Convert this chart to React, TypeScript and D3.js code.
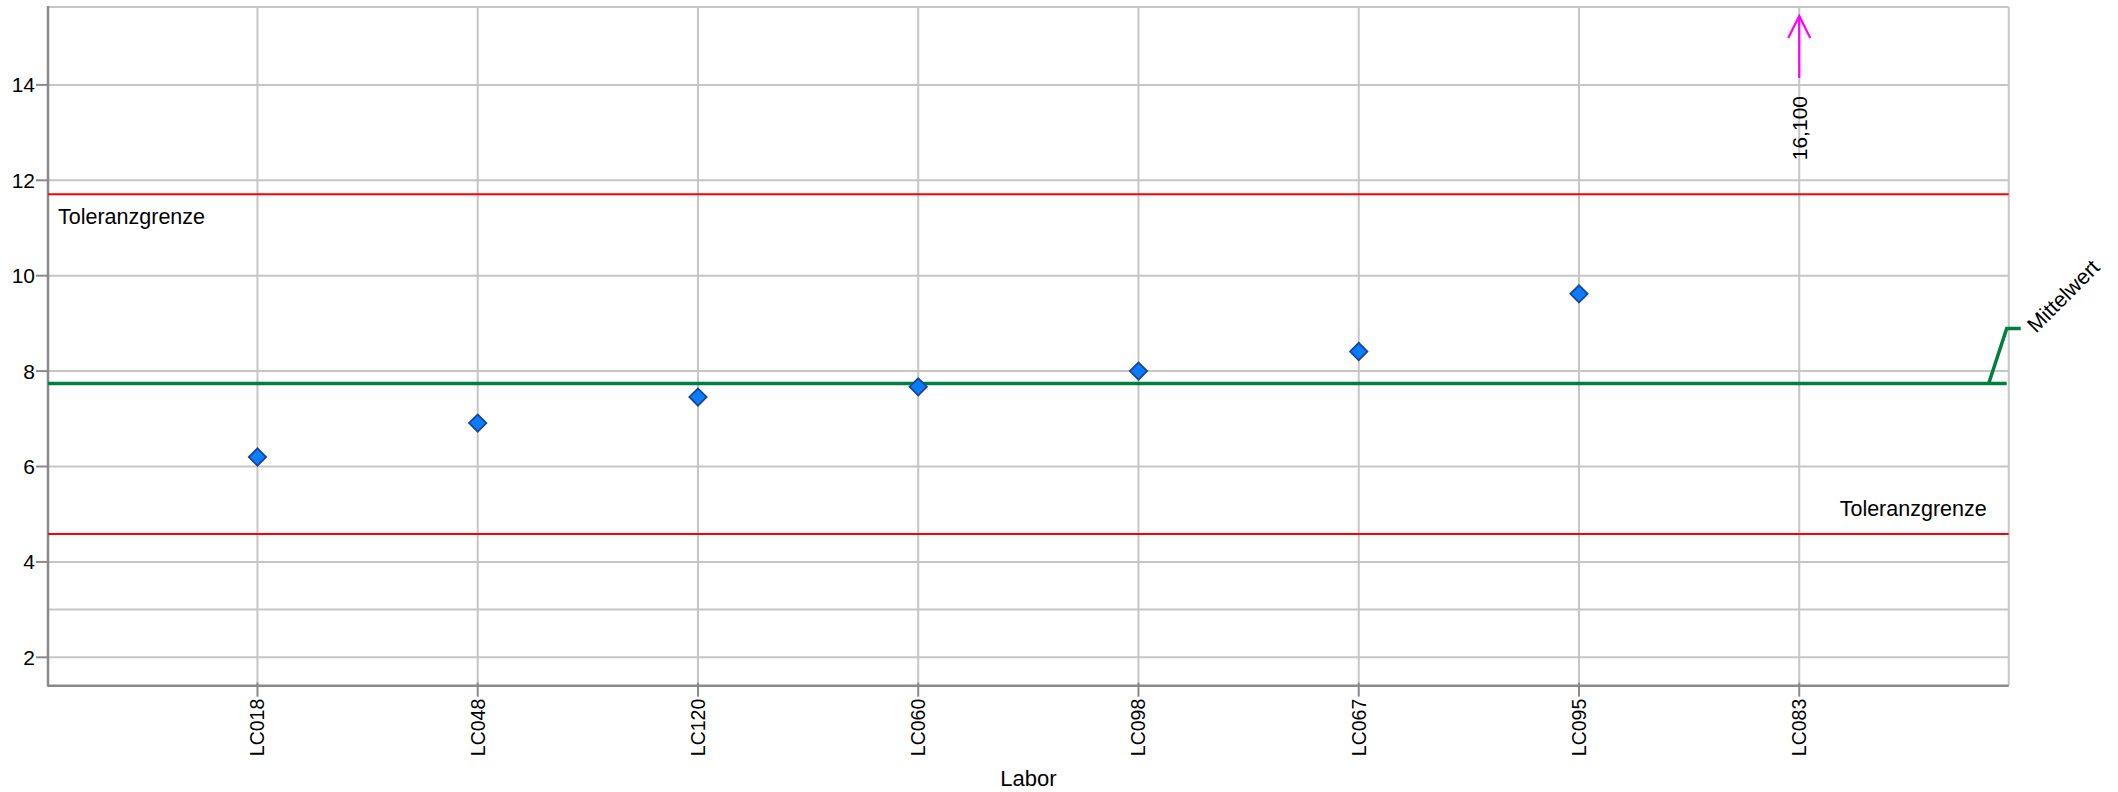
import React from "react";
import * as d3 from "d3";

const categories = ["LC018", "LC048", "LC120", "LC060", "LC098", "LC067", "LC095", "LC083"];
const values = [6.2, 6.91, 7.455, 7.67, 8.0, 8.41, 9.62, 16.1];
const yTicks = [2, 4, 6, 8, 10, 12, 14];
const yGrid = [2, 3, 4, 6, 8, 10, 12, 14];
const upperLimit = 11.71;
const lowerLimit = 4.587;
const meanValue = 7.74;
const yDomain = [1.405, 15.633];

const W = 2118;
const H = 792;
const L = 48;
const R = 2008.7;
const T = 7;
const B = 685.7;

export default function App() {
  const x = d3.scaleLinear().domain([0.049, categories.length + 0.951]).range([L, R]);
  const y = d3.scaleLinear().domain(yDomain).range([B, T]);
  const font = "Arial, 'Liberation Sans', sans-serif";
  const diamond = d3.symbol().type(d3.symbolSquare).size(150)();
  const yMean = y(meanValue);

  return (
    <svg width={W} height={H} style={{ position: "absolute", left: 0, top: 0 }} fontFamily={font}>
      <rect width={W} height={H} fill="#fff" />
      {/* grid */}
      {yGrid.map((t) => (
        <line key={"gy" + t} x1={L} x2={R} y1={y(t)} y2={y(t)} stroke="#c6c6c6" strokeWidth={2} />
      ))}
      {categories.map((c, i) => (
        <line key={"gx" + c} x1={x(i + 1)} x2={x(i + 1)} y1={T} y2={B} stroke="#c6c6c6" strokeWidth={2} />
      ))}
      <line x1={L} x2={R} y1={T} y2={T} stroke="#c6c6c6" strokeWidth={2} />
      <line x1={R} x2={R} y1={T} y2={B} stroke="#c6c6c6" strokeWidth={2} />
      {/* axes */}
      <line x1={L} x2={L} y1={T - 1} y2={B + 1} stroke="#8a8a8a" strokeWidth={2.5} />
      <line x1={L} x2={R} y1={B} y2={B} stroke="#8a8a8a" strokeWidth={2.5} />
      {yTicks.map((t) => (
        <g key={"ty" + t}>
          <line x1={L - 12} x2={L} y1={y(t)} y2={y(t)} stroke="#8a8a8a" strokeWidth={2} />
          <text x={L - 13} y={y(t)} dy="0.36em" textAnchor="end" fontSize={21} fill="#000">
            {t}
          </text>
        </g>
      ))}
      {categories.map((c, i) => (
        <g key={"tx" + c}>
          <line x1={x(i + 1)} x2={x(i + 1)} y1={B - 3} y2={B + 11} stroke="#8a8a8a" strokeWidth={2} />
          <text
            transform={`translate(${x(i + 1)},${B + 13}) rotate(-90)`}
            textAnchor="end"
            dy="0.35em"
            fontSize={19.5}
            fill="#000"
          >
            {c}
          </text>
        </g>
      ))}
      <text x={(L + R) / 2} y={786} textAnchor="middle" fontSize={22} fill="#000">
        Labor
      </text>
      {/* limits */}
      <line x1={L} x2={R} y1={y(upperLimit)} y2={y(upperLimit)} stroke="#ff0000" strokeWidth={2} />
      <line x1={L} x2={R} y1={y(lowerLimit)} y2={y(lowerLimit)} stroke="#ff0000" strokeWidth={2} />
      <text x={L + 10} y={y(upperLimit) + 30} fontSize={21.5} fill="#000">
        Toleranzgrenze
      </text>
      <text x={R - 22} y={y(lowerLimit) - 18} textAnchor="end" fontSize={21.5} fill="#000">
        Toleranzgrenze
      </text>
      {/* mean */}
      <line x1={L} x2={R - 2} y1={yMean} y2={yMean} stroke="#008040" strokeWidth={3.5} />
      <path
        d={`M${R - 20},${yMean} L${R - 2},${yMean - 55} L${R + 12},${yMean - 55}`}
        fill="none"
        stroke="#008040"
        strokeWidth={3.5}
      />
      <text
        transform={`translate(${R + 22},${yMean - 55}) rotate(-45)`}
        dy="0.35em"
        fontSize={21.5}
        fill="#000"
      >
        Mittelwert
      </text>
      {/* points */}
      {values.map((v, i) =>
        v <= yDomain[1] ? (
          <path
            key={"p" + i}
            d={diamond || ""}
            transform={`translate(${x(i + 1)},${y(v)}) rotate(45)`}
            fill="#0a7cff"
            stroke="#1a4596"
            strokeWidth={1.8}
          />
        ) : (
          <g key={"p" + i}>
            <line x1={x(i + 1)} x2={x(i + 1)} y1={16} y2={78} stroke="#ff00ff" strokeWidth={2.2} />
            <path
              d={`M${x(i + 1) - 11},${38} L${x(i + 1)},${16} L${x(i + 1) + 11},${38}`}
              fill="none"
              stroke="#ff00ff"
              strokeWidth={2.2}
            />
            <text
              transform={`translate(${x(i + 1)},${96}) rotate(-90)`}
              textAnchor="end"
              dy="0.35em"
              fontSize={21}
              fill="#000"
            >
              {d3.format(".3f")(v).replace(".", ",")}
            </text>
          </g>
        )
      )}
    </svg>
  );
}
